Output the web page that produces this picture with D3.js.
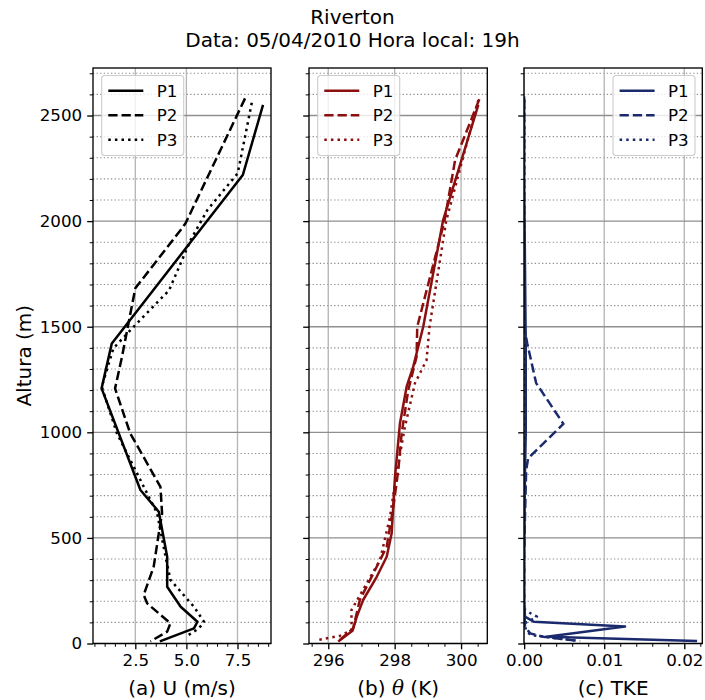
<!DOCTYPE html>
<html>
<head>
<meta charset="utf-8">
<script src="https://cdn.jsdelivr.net/npm/d3@7"></script>
<style>
  html, body { margin: 0; padding: 0; background: #fff; }
  svg { display: block; font-family: "DejaVu Sans", sans-serif; }
</style>
</head>
<body>
<svg id="chart" width="705" height="700"></svg>
<script>
// ---------------- DATA ----------------
const seriesNames = ["P1", "P2", "P3"];

// Panel (a) U (m/s)
const uP1_h = [2550, 2218, 1421, 1208, 727, 624, 411, 269, 174, 103, 72, 10];
const uP1   = [8.75, 7.76, 1.35, 0.85, 2.75, 3.65, 4.06, 4.06, 4.72, 5.54, 5.37, 3.70];
const uP2_h = [2581, 1990, 1958, 1682, 1358, 1208, 995, 742, 616, 522, 364, 230, 190, 96, 56, 10];
const uP2   = [7.87, 4.96, 4.72, 2.50, 1.85, 1.51, 2.25, 3.73, 3.81, 3.65, 3.40, 2.91, 3.08, 4.22, 4.06, 3.24];
const uP3_h = [2560, 2226, 2053, 1911, 1672, 1492, 1398, 1216, 995, 695, 616, 411, 301, 174, 103, 72, 40];
const uP3   = [8.20, 7.51, 6.03, 5.21, 4.15, 2.34, 1.43, 0.86, 1.60, 3.16, 3.57, 3.98, 4.22, 5.37, 5.86, 5.62, 5.10];

// Panel (b) theta (K)
const tP1_h = [2550, 2005, 1626, 1500, 1311, 1216, 1043, 790, 522, 411, 316, 206, 127, 60, 9];
const tP1   = [300.52, 299.46, 299.01, 298.86, 298.56, 298.36, 298.16, 298.01, 297.91, 297.76, 297.46, 297.05, 296.86, 296.73, 296.30];
const tP2_h = [2577, 2289, 2000, 1500, 1358, 1200, 995, 821, 648, 458, 332, 206, 72, 17];
const tP2   = [300.55, 299.82, 299.50, 298.68, 298.66, 298.41, 298.21, 298.11, 297.96, 297.76, 297.36, 296.95, 296.75, 296.35];
const tP3_h = [2573, 2000, 1500, 1342, 1232, 1027, 806, 600, 395, 285, 159, 64, 36, 17];
const tP3   = [300.52, 299.55, 299.05, 298.96, 298.61, 298.31, 298.06, 297.86, 297.56, 297.16, 296.70, 296.70, 296.35, 295.70];

// Panel (c) TKE
const kP1_h = [2590, 2200, 1800, 1400, 1200, 1000, 800, 600, 400, 200, 127, 103, 80, 32, 12];
const kP1   = [0, 0, 0.0001, 0.0002, 0.0002, 0.0002, 0.0001, 0.00005, 0, 0, 0.0001, 0.0012, 0.0126, 0.0028, 0.0216];
const kP2_h = [2577, 2000, 1500, 1418, 1233, 1040, 877, 821, 600, 400, 200, 80, 48, 32, 13];
const kP2   = [0, 0, 0, 0.0004, 0.0015, 0.0049, 0.0005, 0.00025, 0.0001, 0, 0, 0.0001, 0.00075, 0.0024, 0.0066];
const kP3_h = [2573, 2000, 1500, 1000, 500, 200, 160, 143, 127, 96, 64, 40, 25, 12];
const kP3   = [0, 0, 0, 0, 0, 0, 0.0001, 0.0008, 0.0016, 0.0001, 0.0002, 0.0008, 0.0040, 0.0070];

// Ticks
const yMajor = [0, 500, 1000, 1500, 2000, 2500];
const uMajor = [2.5, 5.0, 7.5];
const tMajor = [296, 298, 300];
const kMajor = [0, 0.01, 0.02];
const uLabels = ["2.5", "5.0", "7.5"];
const tLabels = ["296", "298", "300"];
const kLabels = ["0.00", "0.01", "0.02"];

const titleLines = ["Riverton", "Data: 05/04/2010 Hora local: 19h"];
// axis labels as [text, italic?] pieces
const xLabels = [
  [["(a) U (m/s)", false]],
  [["(b) ", false], ["θ", true], [" (K)", false]],
  [["(c) TKE", false]]
];
const yLabel = "Altura (m)";

// ---------------- LAYOUT ----------------
const svg = d3.select("#chart");
const plotTop = 68, plotBottom = 643.5;
const y = d3.scaleLinear().domain([0, 2725]).range([plotBottom, plotTop]);
const yMinor = d3.range(0, 2701, 100);

const panels = [
  { x0: 93, x1: 271, domain: [0.43, 9.14], major: uMajor, labels: uLabels,
    minor: d3.range(0.5, 9.01, 0.5), color: "#000000",
    data: [[uP1_h, uP1], [uP2_h, uP2], [uP3_h, uP3]], legend: "left", yLabels: true },
  { x0: 309, x1: 487.3, domain: [295.42, 300.79], major: tMajor, labels: tLabels,
    minor: d3.range(295.5, 300.51, 0.5), color: "#8b0f0f",
    data: [[tP1_h, tP1], [tP2_h, tP2], [tP3_h, tP3]], legend: "left", yLabels: false },
  { x0: 524, x1: 702.3, domain: [-0.00002, 0.02225], major: kMajor, labels: kLabels,
    minor: d3.range(0, 0.02201, 0.002), color: "#1a2a6c",
    data: [[kP1_h, kP1], [kP2_h, kP2], [kP3_h, kP3]], legend: "right", yLabels: false }
];

const dashes = [null, "9.25,4", "2.5,4.1"];
const lw = 2.5;

// Titles
svg.append("text").attr("x", 352.5).attr("y", 24).attr("text-anchor", "middle")
  .attr("font-size", 20).text(titleLines[0]);
svg.append("text").attr("x", 352.5).attr("y", 47).attr("text-anchor", "middle")
  .attr("font-size", 20).text(titleLines[1]);

// Y label
svg.append("text").attr("transform", `translate(31,${(plotTop + plotBottom) / 2}) rotate(-90)`)
  .attr("text-anchor", "middle").attr("font-size", 20).text(yLabel);

panels.forEach((p, i) => {
  const x = d3.scaleLinear().domain(p.domain).range([p.x0, p.x1]);
  const g = svg.append("g");

  // minor y grid (dotted)
  g.append("g").selectAll("line").data(yMinor.filter(v => v % 500 !== 0)).join("line")
    .attr("x1", p.x0).attr("x2", p.x1).attr("y1", d => y(d)).attr("y2", d => y(d))
    .attr("stroke", "#8c8c8c").attr("stroke-width", 1.1).attr("stroke-dasharray", "1.3,2.3");
  // major x grid
  g.append("g").selectAll("line").data(p.major).join("line")
    .attr("x1", d => x(d)).attr("x2", d => x(d)).attr("y1", plotTop).attr("y2", plotBottom)
    .attr("stroke", "#b5b5b5").attr("stroke-width", 1.33);
  // major y grid
  g.append("g").selectAll("line").data(yMajor).join("line")
    .attr("x1", p.x0).attr("x2", p.x1).attr("y1", d => y(d)).attr("y2", d => y(d))
    .attr("stroke", "#8f8f8f").attr("stroke-width", 1.33);

  // data lines
  const clipId = "clip" + i;
  svg.append("clipPath").attr("id", clipId).append("rect")
    .attr("x", p.x0).attr("y", plotTop).attr("width", p.x1 - p.x0).attr("height", plotBottom - plotTop);
  const line = d3.line().x(d => x(d[1])).y(d => y(d[0]));
  p.data.forEach((s, k) => {
    const pts = s[0].map((h, j) => [h, s[1][j]]);
    g.append("path").datum(pts).attr("d", line).attr("fill", "none")
      .attr("clip-path", `url(#${clipId})`)
      .attr("stroke", p.color).attr("stroke-width", lw)
      .attr("stroke-dasharray", dashes[k]).attr("stroke-linejoin", "round")
      .attr("stroke-linecap", "butt");
  });

  // axes
  const xAxis = d3.axisBottom(x).tickValues(p.major).tickFormat((d, j) => p.labels[j])
    .tickSize(5.8).tickPadding(5);
  const ax = g.append("g").attr("transform", `translate(0,${plotBottom})`).call(xAxis);
  ax.select(".domain").remove();
  ax.selectAll("line").attr("stroke", "#000").attr("stroke-width", 1.33);
  ax.selectAll("text").attr("font-size", 16.7).attr("font-family", "DejaVu Sans").attr("fill", "#000");

  const xMinAx = d3.axisBottom(x).tickValues(p.minor.filter(v => !p.major.some(m => Math.abs(m - v) < 1e-9)))
    .tickSize(3.3).tickFormat("");
  const axm = g.append("g").attr("transform", `translate(0,${plotBottom})`).call(xMinAx);
  axm.select(".domain").remove();
  axm.selectAll("line").attr("stroke", "#000").attr("stroke-width", 1);

  const yAxis = d3.axisLeft(y).tickValues(yMajor).tickSize(5.8).tickPadding(5)
    .tickFormat(p.yLabels ? d3.format("d") : "");
  const ay = g.append("g").attr("transform", `translate(${p.x0},0)`).call(yAxis);
  ay.select(".domain").remove();
  ay.selectAll("line").attr("stroke", "#000").attr("stroke-width", 1.33);
  ay.selectAll("text").attr("font-size", 16.7).attr("font-family", "DejaVu Sans").attr("fill", "#000");

  const yMinAx = d3.axisLeft(y).tickValues(yMinor.filter(v => v % 500 !== 0)).tickSize(3.3).tickFormat("");
  const aym = g.append("g").attr("transform", `translate(${p.x0},0)`).call(yMinAx);
  aym.select(".domain").remove();
  aym.selectAll("line").attr("stroke", "#000").attr("stroke-width", 1);

  // spines
  g.append("rect").attr("x", p.x0).attr("y", plotTop).attr("width", p.x1 - p.x0).attr("height", plotBottom - plotTop)
    .attr("fill", "none").attr("stroke", "#000").attr("stroke-width", 1.33);

  // x label
  const xl = svg.append("text").attr("x", (p.x0 + p.x1) / 2).attr("y", 695).attr("text-anchor", "middle")
    .attr("font-size", 20);
  xLabels[i].forEach(([t, it]) => {
    xl.append("tspan").attr("font-style", it ? "italic" : "normal")
      .attr("font-family", it ? "DejaVu Serif, DejaVu Sans" : "DejaVu Sans").text(t);
  });

  // legend
  const lwid = 82, lhei = 80;
  const lx = p.legend === "left" ? p.x0 + 8.7 : p.x1 - 7.3 - lwid;
  const ly = 75.5;
  const lg = svg.append("g").attr("transform", `translate(${lx},${ly})`);
  lg.append("rect").attr("width", lwid).attr("height", lhei).attr("rx", 3)
    .attr("fill", "rgba(255,255,255,0.8)").attr("stroke", "#cccccc").attr("stroke-width", 1.1);
  seriesNames.forEach((name, k) => {
    const cy = 15.2 + k * 24.5;
    lg.append("line").attr("x1", 6.6).attr("x2", 41.6).attr("y1", cy).attr("y2", cy)
      .attr("stroke", p.color).attr("stroke-width", lw).attr("stroke-dasharray", dashes[k]);
    lg.append("text").attr("x", 55).attr("y", cy + 6).attr("font-size", 16.7).text(name);
  });
});
</script>
</body>
</html>
